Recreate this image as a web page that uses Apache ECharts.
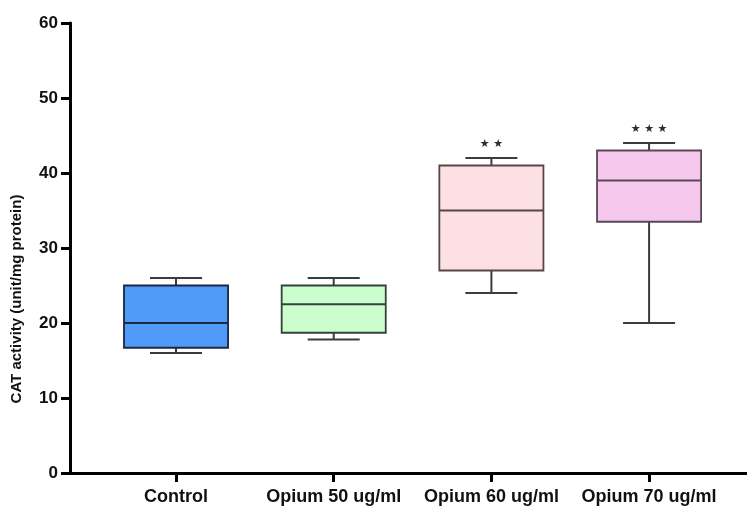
<!DOCTYPE html>
<html>
<head>
<meta charset="utf-8">
<script src="https://cdn.jsdelivr.net/npm/echarts@6/dist/echarts.min.js"></script>
<style>
  html, body { margin: 0; padding: 0; background: #fff; }
  #chart { width: 747px; height: 508px; }
</style>
</head>
<body>
<div id="chart"></div>
<script>
// Group names along the x axis
const categories = ['Control', 'Opium 50 ug/ml', 'Opium 60 ug/ml', 'Opium 70 ug/ml'];
// Five-number summaries per group: [min, Q1, median, Q3, max]
const mins    = [16,   17.8, 24, 20];
const q1s     = [16.7, 18.7, 27, 33.5];
const medians = [20,   22.5, 35, 39];
const q3s     = [25,   25,   41, 43];
const maxs    = [26,   26,   42, 44];
// Significance marks shown above each group
const marks = ['', '', '★ ★', '★ ★ ★'];
// Y axis ticks
const yTicks = [0, 10, 20, 30, 40, 50, 60];

const fills   = ['#4f9bf7', '#ccfdcc', '#fde0e3', '#f6c8ee'];
const strokes = ['#1b2842', '#34433a', '#574646', '#5a4755'];
const whiskerColor = '#3c3c3c';
const FONT = '"Liberation Sans", Arial, sans-serif';

const positions = categories.map((_, i) => i + 1);
const data = categories.map((_, i) => [positions[i], mins[i], q1s[i], medians[i], q3s[i], maxs[i], i]);

const chart = echarts.init(document.getElementById('chart'), null, { renderer: 'canvas' });

function renderBox(params, api) {
  const x = api.value(0);
  const idx = api.value(6);
  const lo = api.coord([x, api.value(1)]);
  const q1 = api.coord([x, api.value(2)]);
  const md = api.coord([x, api.value(3)]);
  const q3 = api.coord([x, api.value(4)]);
  const hi = api.coord([x, api.value(5)]);
  const boxW = api.size([0.66, 0])[0];
  const capW = api.size([0.33, 0])[0];
  const cx = lo[0];
  const wStyle = { stroke: whiskerColor, lineWidth: 2, fill: null };
  const children = [
    { type: 'line', shape: { x1: cx, y1: hi[1], x2: cx, y2: q3[1] }, style: wStyle },
    { type: 'line', shape: { x1: cx - capW / 2, y1: hi[1], x2: cx + capW / 2, y2: hi[1] }, style: wStyle },
    { type: 'line', shape: { x1: cx, y1: lo[1], x2: cx, y2: q1[1] }, style: wStyle },
    { type: 'line', shape: { x1: cx - capW / 2, y1: lo[1], x2: cx + capW / 2, y2: lo[1] }, style: wStyle },
    { type: 'rect', shape: { x: cx - boxW / 2, y: q3[1], width: boxW, height: q1[1] - q3[1] },
      style: { fill: fills[idx], stroke: strokes[idx], lineWidth: 1.8 } },
    { type: 'line', shape: { x1: cx - boxW / 2, y1: md[1], x2: cx + boxW / 2, y2: md[1] },
      style: { stroke: strokes[idx], lineWidth: 1.8 } }
  ];
  if (marks[idx]) {
    children.push({
      type: 'text',
      style: {
        text: marks[idx], x: cx, y: hi[1] - 14,
        align: 'center', verticalAlign: 'middle',
        fill: '#2e2e2e', font: '11px "DejaVu Sans", sans-serif'
      }
    });
  }
  return { type: 'group', children };
}

chart.setOption({
  animation: false,
  backgroundColor: '#ffffff',
  grid: { left: 70, right: 0, top: 23, bottom: 35, containLabel: false },
  xAxis: {
    type: 'value',
    min: 0.3276,
    max: 4.621,
    splitLine: { show: false },
    axisLine: { show: true, onZero: false, lineStyle: { color: '#000', width: 3 } },
    axisTick: { show: true, customValues: positions, length: 9, lineStyle: { color: '#000', width: 3 } },
    axisLabel: {
      show: true, customValues: positions, margin: 15,
      formatter: v => categories[Math.round(v) - 1] || '',
      color: '#111', fontFamily: FONT, fontWeight: 'bold', fontSize: 18
    }
  },
  yAxis: {
    type: 'value',
    min: yTicks[0],
    max: yTicks[yTicks.length - 1],
    interval: 10,
    splitLine: { show: false },
    axisLine: { show: true, lineStyle: { color: '#000', width: 3 } },
    axisTick: { show: true, length: 9, lineStyle: { color: '#000', width: 3 } },
    axisLabel: { margin: 12, color: '#111', fontFamily: FONT, fontWeight: 'bold', fontSize: 17 }
  },
  graphic: [{
    type: 'text',
    x: 17, y: 299, rotation: Math.PI / 2,
    style: {
      text: 'CAT activity (unit/mg protein)',
      align: 'center', verticalAlign: 'middle',
      fill: '#111', font: 'bold 15px ' + FONT
    }
  }],
  series: [{
    type: 'custom',
    renderItem: renderBox,
    encode: { x: 0, y: [1, 2, 3, 4, 5] },
    data: data,
    clip: false
  }]
});
</script>
</body>
</html>
